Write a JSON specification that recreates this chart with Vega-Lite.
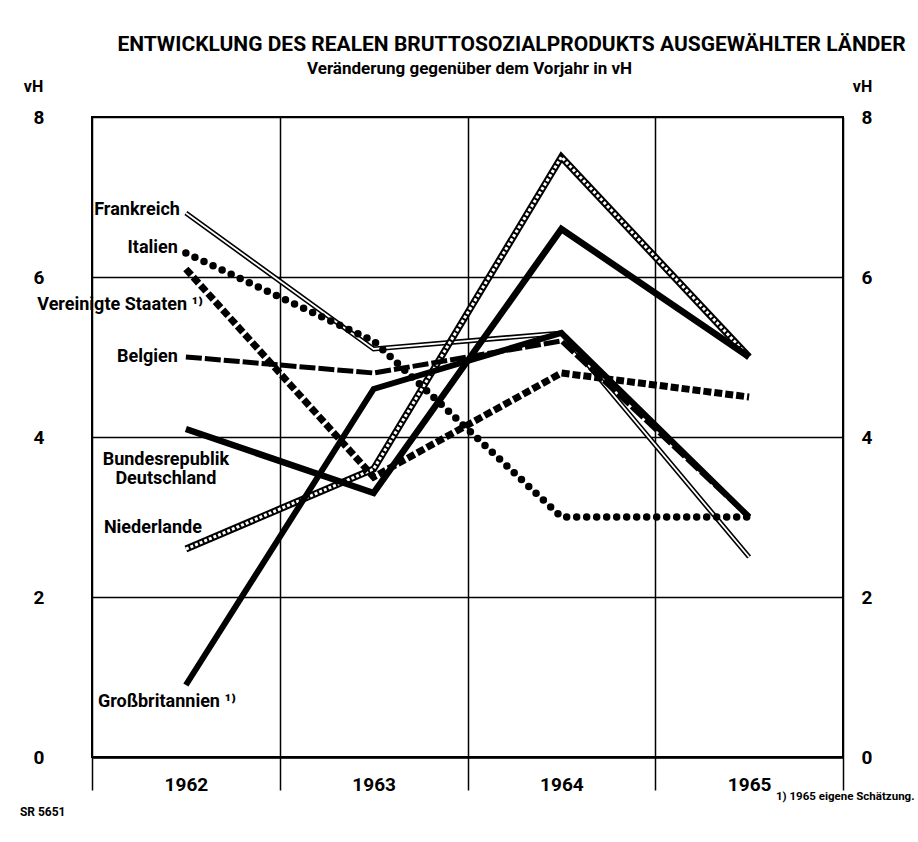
{
  "$schema": "https://vega.github.io/schema/vega-lite/v6.json",
  "width": 751,
  "height": 640,
  "autosize": {"type": "none"},
  "padding": {"left": 92, "top": 117, "right": 75, "bottom": 85},
  "background": "white",
  "config": {
    "view": {"stroke": "black", "strokeWidth": 2},
    "font": "Roboto",
    "axis": {
      "labelFont": "Roboto",
      "titleFont": "Roboto",
      "labelFontWeight": "bold", "titleFontWeight": "bold",
      "labelColor": "black", "titleColor": "black",
      "labelFontSize": 19,
      "gridColor": "black", "gridWidth": 1.5, "gridOpacity": 1,
      "tickColor": "black", "domainColor": "black"
    },
    "text": {"font": "Roboto", "fontWeight": "bold", "fontSize": 18, "color": "black", "baseline": "middle"},
    "line": {"color": "black", "strokeJoin": "miter", "strokeMiterLimit": 10}
  },
  "title": {
    "text": "ENTWICKLUNG DES REALEN BRUTTOSOZIALPRODUKTS AUSGEWÄHLTER LÄNDER",
    "anchor": "middle", "dx": 44, "fontSize": 21, "fontWeight": "bold",
    "font": "Roboto",
    "color": "black", "baseline": "bottom", "offset": -17
  },
  "data": {
    "values": [
      {"country": "Frankreich", "year": "1962", "value": 6.8},
      {"country": "Frankreich", "year": "1963", "value": 5.1},
      {"country": "Frankreich", "year": "1964", "value": 5.3},
      {"country": "Frankreich", "year": "1965", "value": 2.5},
      {"country": "Italien", "year": "1962", "value": 6.3},
      {"country": "Italien", "year": "1963", "value": 5.2},
      {"country": "Italien", "year": "1964", "value": 3.0},
      {"country": "Italien", "year": "1965", "value": 3.0},
      {"country": "Vereinigte Staaten ¹⁾", "year": "1962", "value": 6.1},
      {"country": "Vereinigte Staaten ¹⁾", "year": "1963", "value": 3.5},
      {"country": "Vereinigte Staaten ¹⁾", "year": "1964", "value": 4.8},
      {"country": "Vereinigte Staaten ¹⁾", "year": "1965", "value": 4.5},
      {"country": "Belgien", "year": "1962", "value": 5.0},
      {"country": "Belgien", "year": "1963", "value": 4.8},
      {"country": "Belgien", "year": "1964", "value": 5.2},
      {"country": "Belgien", "year": "1965", "value": 3.0},
      {"country": "Bundesrepublik Deutschland", "year": "1962", "value": 4.1},
      {"country": "Bundesrepublik Deutschland", "year": "1963", "value": 3.3},
      {"country": "Bundesrepublik Deutschland", "year": "1964", "value": 6.6},
      {"country": "Bundesrepublik Deutschland", "year": "1965", "value": 5.0},
      {"country": "Niederlande", "year": "1962", "value": 2.6},
      {"country": "Niederlande", "year": "1963", "value": 3.6},
      {"country": "Niederlande", "year": "1964", "value": 7.5},
      {"country": "Niederlande", "year": "1965", "value": 5.0},
      {"country": "Großbritannien ¹⁾", "year": "1962", "value": 0.9},
      {"country": "Großbritannien ¹⁾", "year": "1963", "value": 4.6},
      {"country": "Großbritannien ¹⁾", "year": "1964", "value": 5.3},
      {"country": "Großbritannien ¹⁾", "year": "1965", "value": 3.0}
    ]
  },
  "resolve": {"axis": {"x": "independent", "y": "independent"}},
  "layer": [
    {
      "transform": [{"filter": {"field": "country", "equal": "Frankreich"}}],
      "mark": {"type": "line", "strokeWidth": 5},
      "encoding": {
        "x": {"field": "year", "type": "ordinal", "bandPosition": 0.5,
          "scale": {"type": "band", "domain": ["1962", "1963", "1964", "1965"], "paddingInner": 0, "paddingOuter": 0},
          "axis": {"orient": "bottom", "title": "1) 1965 eigene Schätzung.", "titleX": 822, "titleY": 39, "titleAlign": "right", "titleBaseline": "middle", "titleFontSize": 11.5,
            "tickBand": "extent", "grid": true, "ticks": true, "tickSize": 33, "tickWidth": 1.5, "domain": true, "domainWidth": 2.5,
            "labelAngle": 0, "labelPadding": -15, "labelBaseline": "top"}},
        "y": {"field": "value", "type": "quantitative",
          "scale": {"domain": [0, 8], "nice": false, "zero": false},
          "axis": {"orient": "left", "values": [0, 2, 4, 6, 8], "grid": true, "ticks": false, "domain": false, "labelPadding": 48,
            "title": "vH", "titleAngle": 0, "titleX": -59, "titleY": -31, "titleAlign": "center", "titleBaseline": "middle", "titleFontSize": 16}}
      }
    },
    {
      "transform": [{"filter": {"field": "country", "equal": "Frankreich"}}],
      "mark": {"type": "line", "strokeWidth": 1.8, "color": "white"},
      "encoding": {
        "x": {"field": "year", "type": "ordinal", "bandPosition": 0.5, "axis": null},
        "y": {"field": "value", "type": "quantitative", "axis": null}
      }
    },
    {
      "transform": [{"filter": {"field": "country", "equal": "Niederlande"}}],
      "mark": {"type": "line", "strokeWidth": 7},
      "encoding": {
        "x": {"field": "year", "type": "ordinal", "bandPosition": 0.5, "axis": null},
        "y": {"field": "value", "type": "quantitative", "axis": null}
      }
    },
    {
      "transform": [{"filter": {"field": "country", "equal": "Niederlande"}}],
      "mark": {"type": "line", "strokeWidth": 3, "color": "white", "strokeDash": [3, 2]},
      "encoding": {
        "x": {"field": "year", "type": "ordinal", "bandPosition": 0.5, "axis": null},
        "y": {"field": "value", "type": "quantitative", "axis": null}
      }
    },
    {
      "transform": [{"filter": {"field": "country", "equal": "Italien"}}],
      "mark": {"type": "line", "strokeWidth": 7.5, "strokeDash": [0, 10], "strokeCap": "round"},
      "encoding": {
        "x": {"field": "year", "type": "ordinal", "bandPosition": 0.5, "axis": null},
        "y": {"field": "value", "type": "quantitative", "axis": null}
      }
    },
    {
      "transform": [{"filter": {"field": "country", "equal": "Vereinigte Staaten ¹⁾"}}],
      "mark": {"type": "line", "strokeWidth": 7, "strokeDash": [8, 3]},
      "encoding": {
        "x": {"field": "year", "type": "ordinal", "bandPosition": 0.5, "axis": null},
        "y": {"field": "value", "type": "quantitative", "axis": null}
      }
    },
    {
      "transform": [{"filter": {"field": "country", "equal": "Belgien"}}],
      "mark": {"type": "line", "strokeWidth": 5, "strokeDash": [16, 3]},
      "encoding": {
        "x": {"field": "year", "type": "ordinal", "bandPosition": 0.5, "axis": null},
        "y": {"field": "value", "type": "quantitative", "axis": null}
      }
    },
    {
      "transform": [{"filter": {"field": "country", "equal": "Bundesrepublik Deutschland"}}],
      "mark": {"type": "line", "strokeWidth": 6.5},
      "encoding": {
        "x": {"field": "year", "type": "ordinal", "bandPosition": 0.5, "axis": null},
        "y": {"field": "value", "type": "quantitative", "axis": null}
      }
    },
    {
      "transform": [{"filter": {"field": "country", "equal": "Großbritannien ¹⁾"}}],
      "mark": {"type": "line", "strokeWidth": 6},
      "encoding": {
        "x": {"field": "year", "type": "ordinal", "bandPosition": 0.5, "axis": null},
        "y": {"field": "value", "type": "quantitative", "axis": null}
      }
    },
    {
      "transform": [{"filter": {"and": [{"field": "country", "equal": "Frankreich"}, {"field": "year", "equal": "1962"}]}}],
      "mark": {"type": "text", "align": "right", "dx": -6, "dy": -3},
      "encoding": {
        "x": {"field": "year", "type": "ordinal", "bandPosition": 0.5,
          "axis": {"orient": "top", "labels": false, "ticks": false, "domain": false, "grid": false,
            "title": "Veränderung gegenüber dem Vorjahr in vH", "titleX": 377, "titleY": -49, "titleAlign": "center", "titleBaseline": "middle", "titleFontSize": 17}},
        "y": {"field": "value", "type": "quantitative",
          "axis": {"orient": "right", "values": [0, 2, 4, 6, 8], "grid": false, "ticks": false, "domain": false, "labelPadding": 18, "labelAlign": "left",
            "title": "vH", "titleAngle": 0, "titleX": 19, "titleY": -31, "titleAlign": "center", "titleBaseline": "middle", "titleFontSize": 16}},
        "text": {"field": "country"}
      }
    },
    {
      "transform": [{"filter": {"and": [{"field": "country", "equal": "Italien"}, {"field": "year", "equal": "1962"}]}}],
      "mark": {"type": "text", "align": "right", "dx": -8, "dy": -5},
      "encoding": {
        "x": {"field": "year", "type": "ordinal", "bandPosition": 0.5, "axis": null},
        "y": {"field": "value", "type": "quantitative", "axis": null},
        "text": {"field": "country"}
      }
    },
    {
      "transform": [{"filter": {"and": [{"field": "country", "equal": "Vereinigte Staaten ¹⁾"}, {"field": "year", "equal": "1962"}]}}],
      "mark": {"type": "text", "align": "right", "dx": 17, "dy": 36},
      "encoding": {
        "x": {"field": "year", "type": "ordinal", "bandPosition": 0.5, "axis": null},
        "y": {"field": "value", "type": "quantitative", "axis": null},
        "text": {"field": "country"}
      }
    },
    {
      "transform": [{"filter": {"and": [{"field": "country", "equal": "Belgien"}, {"field": "year", "equal": "1962"}]}}],
      "mark": {"type": "text", "align": "right", "dx": -8, "dy": 0},
      "encoding": {
        "x": {"field": "year", "type": "ordinal", "bandPosition": 0.5, "axis": null},
        "y": {"field": "value", "type": "quantitative", "axis": null},
        "text": {"field": "country"}
      }
    },
    {
      "transform": [{"filter": {"and": [{"field": "country", "equal": "Bundesrepublik Deutschland"}, {"field": "year", "equal": "1962"}]}}],
      "mark": {"type": "text", "align": "center", "dx": -20, "dy": 31, "lineBreak": " ", "lineHeight": 19},
      "encoding": {
        "x": {"field": "year", "type": "ordinal", "bandPosition": 0.5, "axis": null},
        "y": {"field": "value", "type": "quantitative", "axis": null},
        "text": {"field": "country"}
      }
    },
    {
      "transform": [{"filter": {"and": [{"field": "country", "equal": "Niederlande"}, {"field": "year", "equal": "1962"}]}}],
      "mark": {"type": "text", "align": "right", "dx": 16, "dy": -21},
      "encoding": {
        "x": {"field": "year", "type": "ordinal", "bandPosition": 0.5, "axis": null},
        "y": {"field": "value", "type": "quantitative", "axis": null},
        "text": {"field": "country"}
      }
    },
    {
      "transform": [{"filter": {"and": [{"field": "country", "equal": "Großbritannien ¹⁾"}, {"field": "year", "equal": "1962"}]}}],
      "mark": {"type": "text", "align": "left", "dx": -88, "dy": 17},
      "encoding": {
        "x": {"field": "year", "type": "ordinal", "bandPosition": 0.5, "axis": null},
        "y": {"field": "value", "type": "quantitative", "axis": null},
        "text": {"field": "country"}
      }
    },
    {
      "data": {"values": [{"note": "SR 5651"}]},
      "mark": {"type": "text", "align": "left", "dx": -166, "fontSize": 12},
      "encoding": {
        "x": {"datum": "1962", "type": "ordinal", "bandPosition": 0.5, "axis": null},
        "y": {"datum": -0.69, "type": "quantitative", "axis": null},
        "text": {"field": "note"}
      }
    }
  ]
}
